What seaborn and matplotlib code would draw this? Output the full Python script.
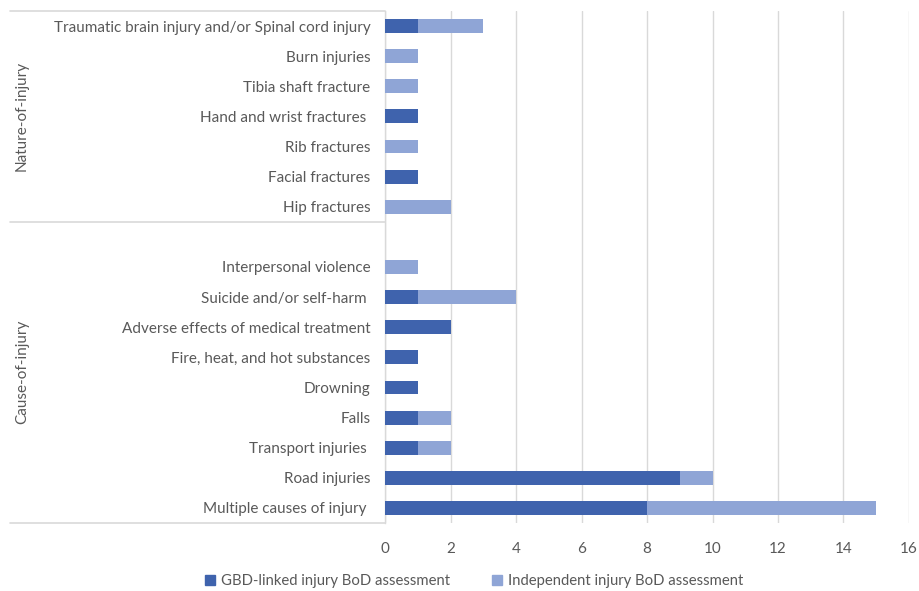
import numpy as np
import pandas as pd
import matplotlib
matplotlib.use('Agg')
import matplotlib.pyplot as plt
from matplotlib.lines import Line2D
import seaborn as sns

# categories, top to bottom (blank row separates the two groups)
categories = ['Traumatic brain injury and/or Spinal cord injury', 'Burn injuries',
              'Tibia shaft fracture', 'Hand and wrist fractures ', 'Rib fractures',
              'Facial fractures', 'Hip fractures', ' ',
              'Interpersonal violence', 'Suicide and/or self-harm ',
              'Adverse effects of medical treatment', 'Fire, heat, and hot substances',
              'Drowning', 'Falls', 'Transport injuries ', 'Road injuries',
              'Multiple causes of injury ']
gbd_linked = [1, 0, 0, 1, 0, 1, 0, 0, 0, 1, 2, 1, 1, 1, 1, 9, 8]
independent = [2, 1, 1, 0, 1, 0, 2, 0, 1, 3, 0, 0, 0, 1, 1, 1, 7]
groups = ['Nature-of-injury', 'Cause-of-injury']
xticks = [0, 2, 4, 6, 8, 10, 12, 14, 16]

dark = '#3F63AD'
light = '#8FA5D6'
txt = '#595959'
grid = '#D9D9D9'
fs = 11

df = pd.DataFrame({'cat': categories, 'gbd': gbd_linked, 'ind': independent})
df['total'] = df['gbd'] + df['ind']

sns.set_theme(style='white')
plt.rcParams['font.family'] = ['Lato', 'DejaVu Sans']

fig = plt.figure(figsize=(9.2, 5.91), dpi=100)
ax = fig.add_axes([385 / 920, 1 - 523 / 591, (909 - 385) / 920, (523 - 11) / 591])

# stacked: total in light, GBD part drawn on top in dark
sns.barplot(data=df, x='total', y='cat', color=light, orient='h', width=0.46,
            saturation=1, linewidth=0, ax=ax, zorder=3)
sns.barplot(data=df, x='gbd', y='cat', color=dark, orient='h', width=0.46,
            saturation=1, linewidth=0, ax=ax, zorder=4)

ax.set_xlim(0, 16)
ax.set_ylim(len(categories) - 0.5, -0.5)
ax.set_xticks(xticks)
ax.set_xticklabels([str(t) for t in xticks])
ax.set_xlabel('')
ax.set_ylabel('')
ax.grid(axis='x', color=grid, lw=1, zorder=0)
ax.grid(axis='y', visible=False)
for s in ['top', 'right', 'bottom']:
    ax.spines[s].set_visible(False)
ax.spines['left'].set_color(grid)
ax.spines['left'].set_linewidth(1)
ax.tick_params(axis='both', length=0, labelsize=fs, colors=txt)
ax.tick_params(axis='y', pad=10.5)
ax.tick_params(axis='x', pad=14)

# group box lines and labels to the left
x0 = 10 / 920
x1 = 385 / 920
for ypx in [11, 222, 523]:
    yf = 1 - ypx / 591
    fig.add_artist(Line2D([x0, x1], [yf, yf], color=grid, lw=1.2, transform=fig.transFigure))
fig.text(22 / 920, 1 - 116 / 591, groups[0], rotation=90, ha='center', va='center',
         fontsize=fs, color=txt)
fig.text(22 / 920, 1 - 372 / 591, groups[1], rotation=90, ha='center', va='center',
         fontsize=fs, color=txt)

handles = [plt.Rectangle((0, 0), 1, 1, color=dark), plt.Rectangle((0, 0), 1, 1, color=light)]
fig.legend(handles, ['GBD-linked injury BoD assessment', 'Independent injury BoD assessment'],
           loc='center', bbox_to_anchor=(474 / 920, 1 - 581 / 591), ncol=2, frameon=False,
           fontsize=10.7, labelcolor=txt, handlelength=0.7, handleheight=0.7,
           handletextpad=0.4, columnspacing=2.8)

fig.savefig('out.png', dpi=100)
